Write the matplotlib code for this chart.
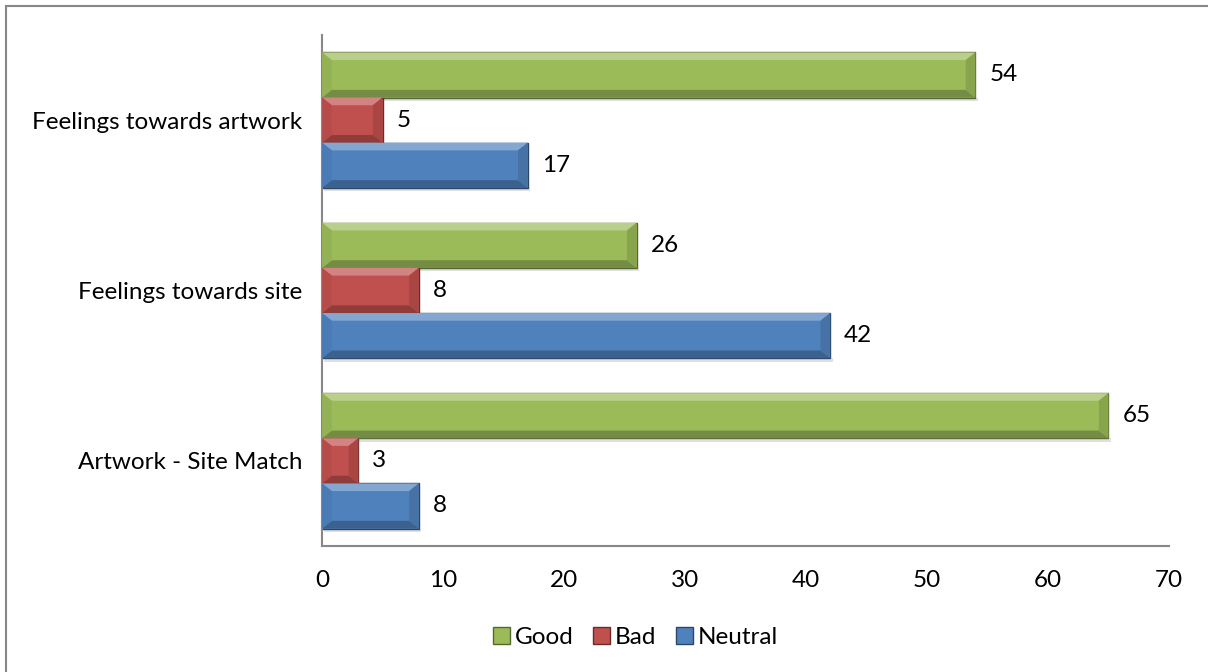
import numpy as np
import matplotlib.pyplot as plt
from matplotlib.patches import Polygon, Rectangle
import matplotlib.colors as mcolors

plt.rcParams['font.family'] = ['Lato', 'DejaVu Sans']

# data
categories = ['Artwork - Site Match', 'Feelings towards site', 'Feelings towards artwork']
series = ['Good', 'Bad', 'Neutral']
good = [65, 26, 54]
bad = [3, 8, 5]
neutral = [8, 42, 17]

colors = {'Good': '#9BBB59', 'Bad': '#C0504D', 'Neutral': '#4F81BD'}
offsets = {'Good': 1, 'Bad': 0, 'Neutral': -1}
values = {'Good': good, 'Bad': bad, 'Neutral': neutral}

fig = plt.figure(figsize=(12.08, 6.72), dpi=100)
ax = fig.add_axes([0.2666, 0.1875, 0.7011, 0.7605])

y = np.arange(len(categories))
h = 0.265
fs = 17.5


def shade(c, f):
    r, g, b = mcolors.to_rgb(c)
    if f > 0:
        return (r + (1 - r) * f, g + (1 - g) * f, b + (1 - b) * f)
    return (r * (1 + f), g * (1 + f), b * (1 + f))


def bevel(ax, patch, color):
    # fake office-style bevel drawn from the bar rectangle
    x0, y0 = patch.get_x(), patch.get_y()
    w, hh = patch.get_width(), patch.get_height()
    x1, y1 = x0 + w, y0 + hh
    bx = min(0.8, w / 2)
    by = 0.045
    top = Polygon([(x0, y1), (x1, y1), (x1 - bx, y1 - by), (x0 + bx, y1 - by)],
                  closed=True, fc=shade(color, 0.3), ec='none', zorder=3)
    bot = Polygon([(x0, y0), (x1, y0), (x1 - bx, y0 + by), (x0 + bx, y0 + by)],
                  closed=True, fc=shade(color, -0.25), ec='none', zorder=3)
    right = Polygon([(x1, y0), (x1, y1), (x1 - bx, y1 - by), (x1 - bx, y0 + by)],
                    closed=True, fc=shade(color, -0.12), ec='none', zorder=3)
    left = Polygon([(x0, y0), (x0, y1), (x0 + bx, y1 - by), (x0 + bx, y0 + by)],
                   closed=True, fc=shade(color, -0.05), ec='none', zorder=3)
    for p in (top, bot, right, left):
        ax.add_patch(p)
    # soft shadow below
    ax.add_patch(Rectangle((x0 + 0.2, y0 - 0.02), w, 0.02, fc='#000000', alpha=0.12,
                           ec='none', zorder=1.5))


for s in series:
    bars = ax.barh(y + offsets[s] * h, values[s], height=h, color=colors[s],
                   edgecolor=shade(colors[s], -0.45), linewidth=1.0, label=s, zorder=2)
    for p in bars.patches:
        bevel(ax, p, colors[s])
    for p, v in zip(bars.patches, values[s]):
        ax.annotate(str(v), (p.get_width(), p.get_y() + p.get_height() / 2),
                    xytext=(10, 0), textcoords='offset points', va='center', ha='left',
                    fontsize=fs, color='black')

ax.set_xlim(0, 70)
ax.set_ylim(-0.5, 2.5)
ax.set_xticks(range(0, 71, 10))
ax.set_yticks(y)
ax.set_yticklabels(categories)
ax.tick_params(axis='both', length=0, labelsize=fs, colors='black')
ax.tick_params(axis='x', pad=17)
ax.tick_params(axis='y', pad=14)
for sp in ['top', 'right']:
    ax.spines[sp].set_visible(False)
for sp in ['left', 'bottom']:
    ax.spines[sp].set_color('#888888')
    ax.spines[sp].set_linewidth(1.5)

leg = ax.legend(loc='center', bbox_to_anchor=(0.526, 0.051), bbox_transform=fig.transFigure,
                ncol=3, frameon=False, fontsize=fs, handlelength=0.7, handleheight=0.7,
                handletextpad=0.2, columnspacing=0.8)

# outer chart border
fig.patches.append(Rectangle((6 / 1208, -0.1), 1.2, (672 - 6) / 672 + 0.1,
                             transform=fig.transFigure, fill=False,
                             ec='#888888', lw=1.5))

fig.savefig('out.png', dpi=100)
